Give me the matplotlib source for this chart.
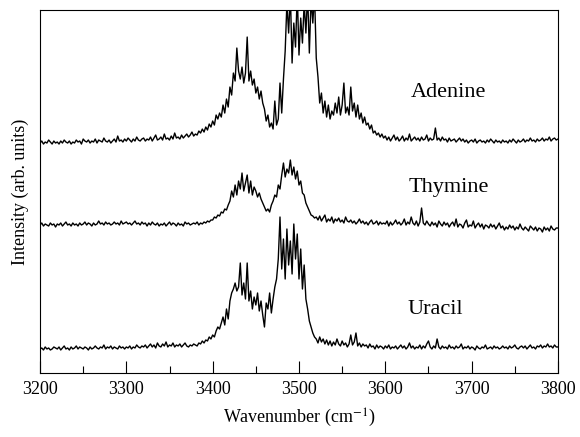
import numpy as np
import matplotlib
matplotlib.use("Agg")
import matplotlib.pyplot as plt
from matplotlib.ticker import MultipleLocator

plt.rcParams['font.family'] = ['Liberation Serif', 'DejaVu Serif']
plt.rcParams['mathtext.fontset'] = 'stix'

# wavenumber grid (cm^-1), 2 cm^-1 steps from 3200 to 3800
wn_start, wn_step = 3200, 2

adenine = [
    0, 2, -1, 1, 0, 3, 1, -1, 2, 0,
    1, -1, 2, 0, 3, 1, 0, 2, -1, 1,
    0, 3, 1, 2, -1, 4, 2, 1, 3, 0,
    2, 1, 4, 0, 3, 2, 1, 5, 2, 1,
    3, 0, 2, 4, 1, 7, 2, 3, 1, 4,
    2, 5, 3, 1, 4, 2, 6, 3, 2, 4,
    5, 2, 4, 3, 6, 2, 5, 8, 3, 4,
    6, 3, 9, 4, 5, 3, 7, 4, 10, 5,
    6, 4, 8, 5, 7, 9, 6, 8, 11, 7,
    9, 8, 12, 10, 14, 11, 16, 13, 19, 16,
    22, 18, 28, 24, 30, 26, 38, 30, 44, 36,
    56, 48, 70, 62, 95, 72, 64, 76, 60, 70,
    106, 62, 72, 58, 64, 50, 56, 44, 52, 40,
    34, 22, 28, 16, 20, 14, 42, 18, 24, 60,
    30, 64, 92, 140, 110, 150, 80, 120, 96, 150,
    88, 125, 100, 140, 110, 150, 90, 145, 120, 150,
    85, 66, 40, 50, 30, 42, 26, 38, 24, 32,
    28, 40, 30, 46, 28, 38, 60, 30, 36, 28,
    56, 32, 40, 26, 38, 24, 30, 20, 26, 18,
    20, 14, 18, 10, 12, 8, 10, 6, 9, 5,
    7, 3, 6, 2, 5, 8, 3, 6, 2, 4,
    7, 2, 5, 3, 9, 2, 4, 6, 3, 5,
    2, 6, 3, 4, 8, 2, 5, 3, 4, 15,
    3, 5, 2, 6, 3, 4, 1, 5, 2, 3,
    4, 1, 3, 5, 2, 4, 1, 3, 0, 2,
    3, 1, 4, 0, 2, 3, 1, 2, 0, 3,
    1, 4, 2, 0, 3, 1, 2, 0, 3, 1,
    2, 0, 3, 1, 4, 2, 0, 3, 1, 2,
    4, 1, 3, 2, 5, 2, 3, 1, 4, 2,
    3, 5, 2, 4, 3, 6, 2, 4, 5, 3,
    4,
]

thymine = [
    0, 2, -1, 1, 0, -1, 2, 0, 1, -2,
    1, 0, 2, -1, 1, 3, 0, 1, -1, 2,
    0, 1, -1, 2, 0, 1, 3, 0, 2, 1,
    -1, 2, 0, 1, 4, 1, 2, 0, 3, 1,
    2, 0, 1, 3, 1, 2, 0, 4, 1, 2,
    3, 1, 2, 0, 2, 4, 1, 2, 0, 3,
    1, 2, -1, 2, 0, 3, 1, 0, 2, -1,
    1, 0, 2, -1, 1, 3, 0, 2, 1, -1,
    2, 0, 1, -1, 3, 1, 2, 0, 1, 2,
    1, 3, 0, 2, 1, 3, 2, 4, 3, 5,
    5, 8, 7, 10, 9, 13, 12, 16, 15, 20,
    24, 34, 28, 40, 30, 44, 36, 52, 34, 42,
    50, 32, 44, 30, 38, 34, 28, 32, 26, 22,
    18, 14, 16, 13, 20, 24, 30, 28, 40, 36,
    50, 62, 48, 56, 52, 65, 50, 58, 46, 54,
    40, 44, 32, 30, 22, 18, 14, 10, 9, 7,
    8, 5, 9, 4, 7, 10, 3, 6, 4, 8,
    2, 6, 4, 7, 3, 5, 2, 8, 4, 3,
    5, 2, 4, 1, 3, 6, 2, 4, 1, 3,
    0, 3, 5, 1, 2, 4, 0, 3, 1, 2,
    1, 4, -1, 3, 0, 2, 5, 1, 3, 0,
    2, 6, 0, 3, 1, 8, 2, 0, 4, -1,
    3, 17, 2, 0, 4, 1, -1, 3, 0, 2,
    -2, 4, 1, -1, 3, 0, 2, -2, 1, 3,
    -1, 6, -2, 1, 0, -3, 2, 5, -2, 0,
    -1, 4, -3, 0, 2, -2, 1, -4, 0, -1,
    -3, 1, -2, 0, -4, -1, 2, -3, -1, -5,
    -2, -4, 0, -3, -1, -5, -2, -4, 1, -3,
    -5, -2, -4, -6, -1, -3, -5, -2, -6, -3,
    -4, -7, -2, -5, -3, -6, -1, -4, -5, -3,
    -3,
]

uracil = [
    0, 1, -1, 2, 0, 1, -1, 0, 2, 1,
    0, 2, -1, 1, 3, 0, 1, -1, 2, 0,
    1, 3, 0, 2, 1, 0, 2, 1, -1, 2,
    0, 1, 3, 1, 0, 2, 1, 4, 0, 2,
    1, 3, 0, 2, 1, 0, 3, 1, 2, 0,
    2, 1, 3, 0, 2, 1, 4, 2, 1, 3,
    2, 4, 1, 3, 5, 2, 4, 1, 6, 3,
    2, 5, 3, 7, 2, 4, 3, 6, 2, 4,
    3, 5, 2, 4, 6, 3, 2, 4, 3, 5,
    4, 3, 6, 5, 8, 6, 9, 8, 12, 10,
    14, 12, 18, 22, 20, 26, 32, 24, 40, 30,
    48, 56, 60, 66, 58, 62, 86, 54, 66, 50,
    86, 48, 58, 40, 52, 44, 56, 38, 48, 34,
    22, 46, 40, 56, 36, 50, 62, 70, 90, 132,
    80, 110, 70, 120, 84, 108, 75, 125, 90, 115,
    70, 100, 60, 84, 50, 40, 28, 22, 16, 12,
    10, 6, 12, 7, 10, 5, 9, 4, 8, 3,
    7, 4, 10, 5, 3, 8, 4, 6, 2, 5,
    14, 4, 7, 16, 3, 6, 2, 5, 3, 4,
    1, 5, 2, 3, 0, 4, 1, 3, 2, 0,
    3, 1, 4, 0, 2, 1, 3, 0, 2, 4,
    1, 3, 0, 2, 6, 1, 3, 0, 2, 1,
    4, 0, 3, 1, 5, 8, 2, 0, 3, 1,
    10, 2, 0, 3, 1, 2, 0, 4, 1, 2,
    0, 3, 1, 2, 5, 0, 2, 1, 3, 0,
    2, 1, -1, 3, 1, 0, 2, 1, 4, 0,
    1, 2, 0, 3, 1, 2, 0, 1, 3, 1,
    2, 0, 3, 1, 2, 4, 1, 0, 2, 3,
    1, 3, 0, 2, 4, 1, 2, 0, 3, 2,
    4, 1, 3, 2, 5, 2, 3, 1, 4, 2,
    2,
]

names = ["Adenine", "Thymine", "Uracil"]
series = [adenine, thymine, uracil]
offsets = [230, 148, 24]
label_pos = [(3673, 281), (3673, 186), (3658, 63)]

fig = plt.figure(figsize=(5.8, 4.37), dpi=100)
ax = fig.add_axes([0.069, 0.1465, 0.893, 0.8305])

for name, s, off, (lx, ly) in zip(names, series, offsets, label_pos):
    y = np.asarray(s, dtype=float)
    x = wn_start + wn_step * np.arange(len(y))
    ax.plot(x, y + off, color='black', lw=1.0)
    ax.text(lx, ly, name, fontsize=16, ha='center', va='center')

ax.set_xlim(3200, 3800)
ax.set_ylim(0, 363)
ax.xaxis.set_major_locator(MultipleLocator(100))
ax.xaxis.set_minor_locator(MultipleLocator(50))
ax.tick_params(axis='x', which='major', direction='in', length=9, width=0.8,
               labelsize=13, pad=6)
ax.tick_params(axis='x', which='minor', direction='in', length=5, width=0.8)
ax.set_yticks([])
for sp in ax.spines.values():
    sp.set_linewidth(0.8)

ax.set_xlabel(r'Wavenumber (cm$^{-1}$)', fontsize=13, labelpad=6)
ax.set_ylabel('Intensity (arb. units)', fontsize=13, labelpad=8)

fig.savefig('out.png', dpi=100)
